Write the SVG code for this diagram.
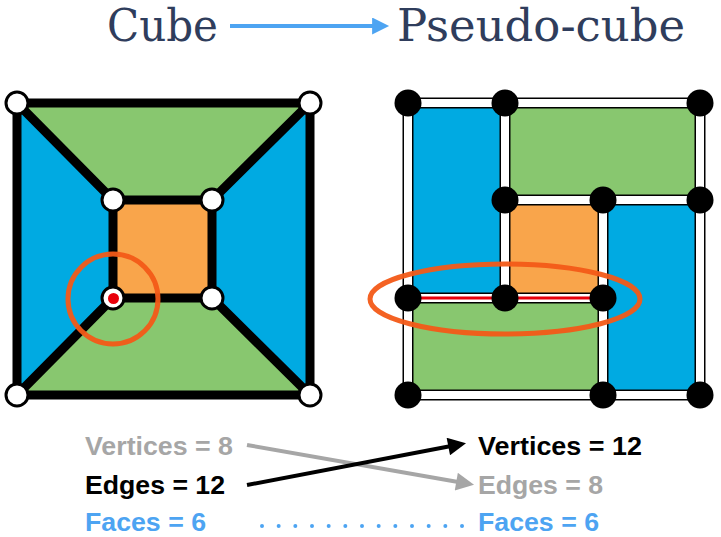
<svg xmlns="http://www.w3.org/2000/svg" width="721" height="537" viewBox="0 0 721 537">
<style>
.title{font-family:"DejaVu Serif","Liberation Serif",serif;font-size:44px;fill:#2f3d5c}
.lbl{font-family:"Liberation Sans",Arial,sans-serif;font-weight:bold;font-size:25px}
.gray{fill:#a6a6a6}.blk{fill:#000}.blue{fill:#4da4f2}
.green{fill:#88c76f}.cyan{fill:#00aae2}.orange{fill:#f9a54b}
.cedge{stroke:#000;stroke-width:9;stroke-linecap:round;fill:none}
.cv{fill:#fff;stroke:#000;stroke-width:3}
.pout{stroke:#000;stroke-width:11;fill:none}
.pin{stroke:#fff;stroke-width:8;fill:none}
.pv{fill:#000}
.hl{fill:none;stroke:#f35a17;stroke-width:5;opacity:0.95}
</style>
<defs>
<marker id="ah-blue" viewBox="0 0 10 10" refX="7" refY="5" markerWidth="20" markerHeight="17" markerUnits="userSpaceOnUse" orient="auto"><path d="M0,0 L10,5 L0,10 z" fill="#4da4f2"/></marker>
<marker id="ah-gray" viewBox="0 0 10 10" refX="7.5" refY="5" markerWidth="22" markerHeight="18" markerUnits="userSpaceOnUse" orient="auto"><path d="M0,0 L10,5 L0,10 z" fill="#a6a6a6"/></marker>
<marker id="ah-black" viewBox="0 0 10 10" refX="7.5" refY="5" markerWidth="22" markerHeight="18" markerUnits="userSpaceOnUse" orient="auto"><path d="M0,0 L10,5 L0,10 z" fill="#000"/></marker>
</defs>
<rect width="721" height="537" fill="#fff"/>

<g id="title-cube"><text class="title" x="107" y="41" textLength="111" lengthAdjust="spacingAndGlyphs">Cube</text></g>
<g id="title-pseudo"><text class="title" x="397" y="41" textLength="288" lengthAdjust="spacingAndGlyphs">Pseudo-cube</text></g>

<g id="cube">
<polygon class="green" points="17,103 310,103 212,200 113,200"/>
<polygon class="cyan" points="17,103 113,200 113,298 17,395"/>
<polygon class="cyan" points="310,103 310,395 212,298 212,200"/>
<polygon class="green" points="17,395 113,298 212,298 310,395"/>
<rect class="orange" x="113" y="200" width="99" height="98"/>
<path class="cedge" d="M17,103 H310 V395 H17 Z M113,200 H212 V298 H113 Z M17,103 L113,200 M310,103 L212,200 M17,395 L113,298 M310,395 L212,298"/>
<circle class="cv" cx="17" cy="103" r="11"/>
<circle class="cv" cx="310" cy="103" r="11"/>
<circle class="cv" cx="17" cy="395" r="11"/>
<circle class="cv" cx="310" cy="395" r="11"/>
<circle class="cv" cx="113" cy="200" r="11"/>
<circle class="cv" cx="212" cy="200" r="11"/>
<circle class="cv" cx="212" cy="298" r="11"/>
<circle class="cv" cx="113" cy="298" r="11"/>
<circle cx="113.5" cy="298.5" r="5.5" fill="#e8000b"/>
<circle class="hl" cx="113" cy="299" r="45"/>
</g>

<g id="pseudo-cube">
<rect class="cyan" x="408" y="103" width="97" height="195"/>
<rect class="green" x="505" y="103" width="195" height="97"/>
<rect class="orange" x="505" y="200" width="98" height="98"/>
<rect class="cyan" x="603" y="200" width="97" height="195"/>
<rect class="green" x="408" y="298" width="195" height="97"/>
<path class="pout" d="M408,103 H700 V395 H408 Z M505,103 V298 M505,200 H700 M603,200 V395 M408,298 H603"/>
<path class="pin" d="M408,103 H700 V395 H408 Z M505,103 V298 M505,200 H700 M603,200 V395 M408,298 H603"/>
<path d="M408,298 H603" stroke="#e8000b" stroke-width="3" fill="none"/>
<circle class="pv" cx="408" cy="103" r="13.5"/>
<circle class="pv" cx="505" cy="103" r="13.5"/>
<circle class="pv" cx="700" cy="103" r="13.5"/>
<circle class="pv" cx="505" cy="200" r="13.5"/>
<circle class="pv" cx="603" cy="200" r="13.5"/>
<circle class="pv" cx="700" cy="200" r="13.5"/>
<circle class="pv" cx="408" cy="298" r="13.5"/>
<circle class="pv" cx="505" cy="298" r="13.5"/>
<circle class="pv" cx="603" cy="298" r="13.5"/>
<circle class="pv" cx="408" cy="395" r="13.5"/>
<circle class="pv" cx="603" cy="395" r="13.5"/>
<circle class="pv" cx="700" cy="395" r="13.5"/>
<ellipse class="hl" cx="505" cy="299" rx="135" ry="35"/>
</g>

<g id="lbl-cube-vertices"><text class="lbl gray" x="85" y="455" textLength="148" lengthAdjust="spacingAndGlyphs">Vertices = 8</text></g>
<g id="lbl-cube-edges"><text class="lbl blk" x="85" y="494" textLength="140" lengthAdjust="spacingAndGlyphs">Edges = 12</text></g>
<g id="lbl-cube-faces"><text class="lbl blue" x="85" y="531" textLength="121" lengthAdjust="spacingAndGlyphs">Faces = 6</text></g>
<g id="lbl-pseudo-vertices"><text class="lbl blk" x="478" y="455" textLength="164" lengthAdjust="spacingAndGlyphs">Vertices = 12</text></g>
<g id="lbl-pseudo-edges"><text class="lbl gray" x="478" y="494" textLength="125" lengthAdjust="spacingAndGlyphs">Edges = 8</text></g>
<g id="lbl-pseudo-faces"><text class="lbl blue" x="478" y="531" textLength="121" lengthAdjust="spacingAndGlyphs">Faces = 6</text></g>

<g id="connectors">
<line x1="230" y1="26" x2="384" y2="26" stroke="#4da4f2" stroke-width="4" marker-end="url(#ah-blue)"/>
<line x1="247" y1="445" x2="469.6" y2="484" stroke="#a6a6a6" stroke-width="4" marker-end="url(#ah-gray)"/>
<line x1="247" y1="485" x2="461.6" y2="444" stroke="#000" stroke-width="4" marker-end="url(#ah-black)"/>
<line x1="262" y1="526" x2="463" y2="526" stroke="#4da4f2" stroke-width="4" stroke-linecap="round" stroke-dasharray="0 16.667"/>
</g>
</svg>
